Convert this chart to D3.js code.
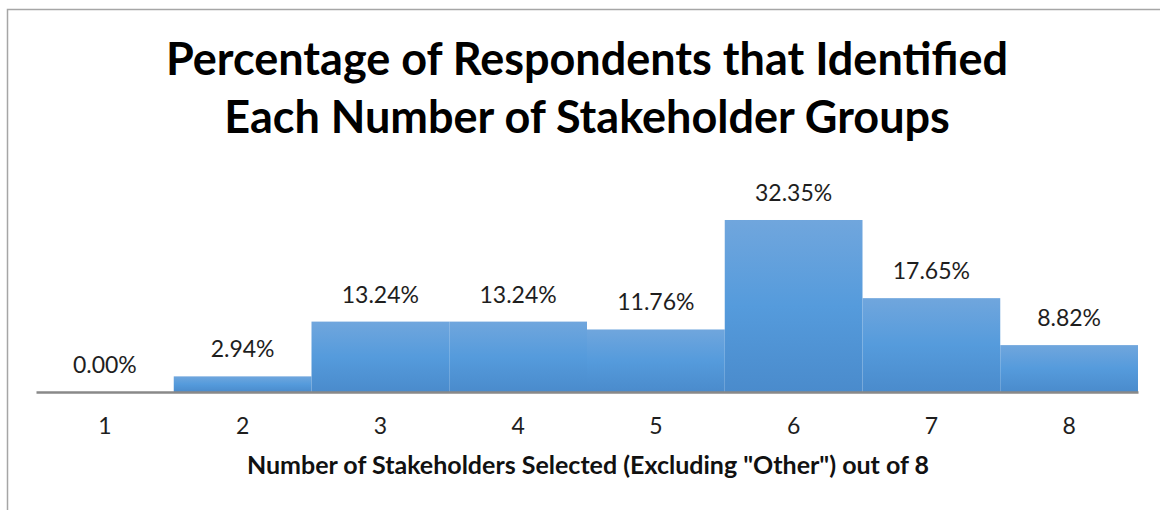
<!DOCTYPE html>
<html lang="en">
<head>
  <meta charset="UTF-8">
  <title>Percentage of Respondents that Identified Each Number of Stakeholder Groups</title>
  <script src="https://d3js.org/d3.v7.min.js"></script>
  <style>
    body { margin: 0; background: #fff; }
    text { font-family: Lato, "Open Sans", sans-serif; }
  </style>
</head>
<body>
  <div id="chart"></div>

  <script>
    // Data
    const categories = ["1", "2", "3", "4", "5", "6", "7", "8"];
    const percents = [0.00, 2.94, 13.24, 13.24, 11.76, 32.35, 17.65, 8.82];
    const titleLines = ["Percentage of Respondents that Identified", "Each Number of Stakeholder Groups"];
    const xTitle = "Number of Stakeholders Selected (Excluding \"Other\") out of 8";

    const data = categories.map((c, i) => ({ cat: c, value: percents[i] }));

    const W = 1160, H = 510;
    const left = 36, right = 1138, baseY = 392;

    const svg = d3.select("#chart")
      .append("svg")
      .attr("width", W)
      .attr("height", H);

    // gradient used by every bar (per bar bounding box)
    const grad = svg.append("defs").append("linearGradient")
      .attr("id", "barGrad")
      .attr("x1", 0).attr("y1", 0).attr("x2", 0).attr("y2", 1);
    grad.append("stop").attr("offset", "0%").attr("stop-color", "#70a6dd");
    grad.append("stop").attr("offset", "50%").attr("stop-color", "#559bdc");
    grad.append("stop").attr("offset", "100%").attr("stop-color", "#4a8bcc");

    // chart frame (runs off the right and bottom edges)
    svg.append("rect")
      .attr("x", 7.5).attr("y", 9.5)
      .attr("width", 1300).attr("height", 700)
      .attr("fill", "none")
      .attr("stroke", "#a6a6a6")
      .attr("stroke-width", 1.5);

    const x = d3.scaleBand()
      .domain(categories)
      .range([left, right])
      .padding(0);

    const y = d3.scaleLinear()
      .domain([0, 35])
      .range([baseY, baseY - 35 * 5.317]);

    // bars
    svg.selectAll(".bar")
      .data(data)
      .enter().append("rect")
        .attr("class", "bar")
        .attr("x", d => x(d.cat))
        .attr("y", d => y(d.value))
        .attr("width", x.bandwidth())
        .attr("height", d => y(0) - y(d.value))
        .attr("fill", "url(#barGrad)");

    // value labels
    svg.selectAll(".label")
      .data(data)
      .enter().append("text")
        .attr("class", "label")
        .attr("x", d => x(d.cat) + x.bandwidth() / 2)
        .attr("y", d => y(d.value) - 19)
        .attr("text-anchor", "middle")
        .attr("font-size", 23)
        .attr("fill", "#1e1e1e")
        .text(d => d.value.toFixed(2) + "%");

    // x axis
    const xAxis = svg.append("g")
      .attr("transform", "translate(0," + baseY + ")")
      .call(d3.axisBottom(x).tickSize(0).tickPadding(26));
    xAxis.select(".domain")
      .attr("stroke", "#898989")
      .attr("stroke-width", 2.5);
    xAxis.selectAll(".tick text")
      .attr("font-size", 23)
      .attr("font-family", "Lato, sans-serif")
      .attr("fill", "#1e1e1e");

    // axis title
    svg.append("text")
      .attr("x", (left + right) / 2 + 1)
      .attr("y", 474)
      .attr("text-anchor", "middle")
      .attr("font-size", 25)
      .attr("font-weight", "bold")
      .attr("fill", "#111")
      .text(xTitle);

    // chart title
    svg.append("g").selectAll("text")
      .data(titleLines)
      .enter().append("text")
        .attr("x", (left + right) / 2)
        .attr("y", (d, i) => 75 + i * 58)
        .attr("text-anchor", "middle")
        .attr("font-size", 45)
        .attr("font-weight", "bold")
        .attr("fill", "#000")
        .text(d => d);
  </script>
</body>
</html>
